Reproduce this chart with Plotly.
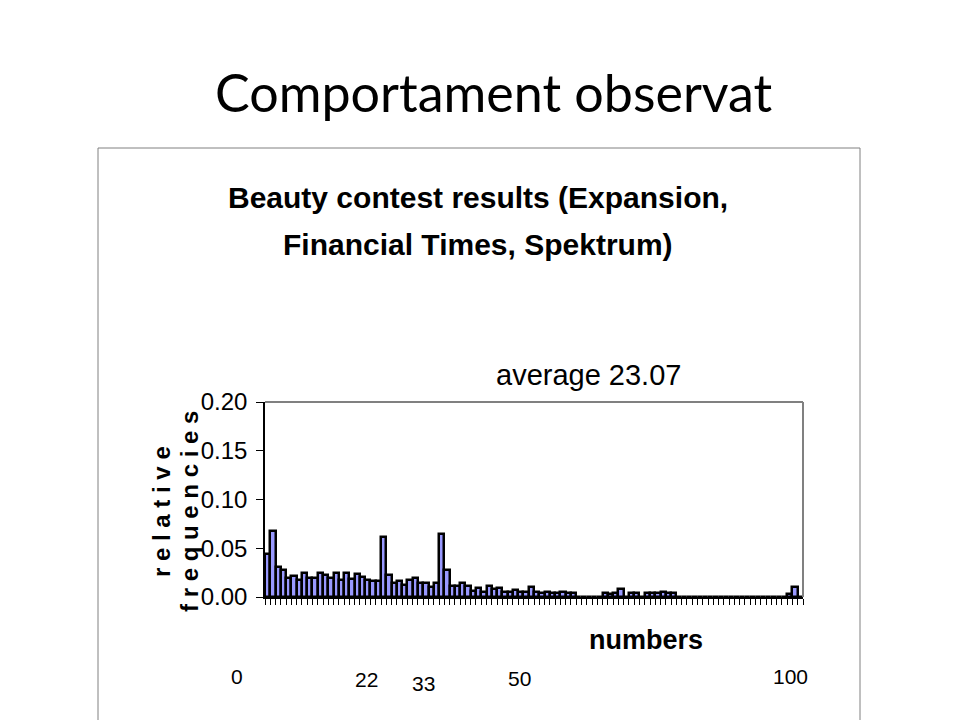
import plotly.graph_objects as go

W, H = 960, 720

# ---- data ----
numbers = list(range(0, 102))
rel_freq = [
    0.044, 0.068, 0.031, 0.028, 0.019, 0.022, 0.017, 0.025, 0.020, 0.020,  # 0-9
    0.025, 0.023, 0.020, 0.025, 0.017, 0.025, 0.018, 0.024, 0.021, 0.017,  # 10-19
    0.016, 0.016, 0.062, 0.023, 0.014, 0.016, 0.012, 0.017, 0.020, 0.014,  # 20-29
    0.014, 0.010, 0.014, 0.065, 0.028, 0.011, 0.011, 0.014, 0.011, 0.006,  # 30-39
    0.009, 0.005, 0.011, 0.008, 0.009, 0.005, 0.005, 0.007, 0.005, 0.005,  # 40-49
    0.010, 0.005, 0.004, 0.005, 0.004, 0.004, 0.005, 0.004, 0.004, 0.000,  # 50-59
    0.000, 0.000, 0.000, 0.000, 0.004, 0.003, 0.004, 0.008, 0.000, 0.004,  # 60-69
    0.004, 0.000, 0.004, 0.004, 0.004, 0.005, 0.004, 0.004, 0.000, 0.000,  # 70-79
    0.000, 0.000, 0.000, 0.000, 0.000, 0.000, 0.000, 0.000, 0.000, 0.000,  # 80-89
    0.000, 0.000, 0.000, 0.000, 0.000, 0.000, 0.000, 0.000, 0.000, 0.003,  # 90-99
    0.0105, 0.000,                                                          # 100-101
]
y_ticks = [0.00, 0.05, 0.10, 0.15, 0.20]
y_tick_labels = ["0.00", "0.05", "0.10", "0.15", "0.20"]
slide_title = "Comportament observat"
chart_title_lines = ["Beauty contest results (Expansion,", "Financial Times, Spektrum)"]
avg_label = "average 23.07"
y_title_lines = ["r e l a t i v e", "f r e q u e n c i e s"]
x_title = "numbers"
marker_labels = ["0", "22", "33", "50", "100"]


def fx(px):
    return px / W


def fy(py):
    return 1 - py / H


SANS = "Liberation Sans, Arial, sans-serif"

fig = go.Figure()
fig.add_trace(go.Bar(
    x=numbers, y=rel_freq,
    marker=dict(color="#9999FF", line=dict(color="black", width=2.5)),
    width=1.0,
))

ann = []
ann.append(dict(text=slide_title, x=fx(494), y=fy(92), xref="paper", yref="paper",
                showarrow=False, xanchor="center", yanchor="middle",
                font=dict(family="Lato, Carlito, Calibri, sans-serif", size=52, color="black")))
for line, py in zip(chart_title_lines, [197, 244]):
    ann.append(dict(text="<b>%s</b>" % line, x=fx(478), y=fy(py), xref="paper", yref="paper",
                    showarrow=False, xanchor="center", yanchor="middle",
                    font=dict(family=SANS, size=30, color="black")))
ann.append(dict(text=avg_label, x=fx(588), y=fy(375), xref="paper", yref="paper",
                showarrow=False, xanchor="center", yanchor="middle",
                font=dict(family=SANS, size=29, color="black")))
for line, px in zip(y_title_lines, [161, 189]):
    ann.append(dict(text="<b>%s</b>" % line, x=fx(px), y=fy(512), xref="paper", yref="paper",
                    showarrow=False, xanchor="center", yanchor="middle", textangle=-90,
                    font=dict(family=SANS, size=24, color="black")))
ann.append(dict(text="<b>%s</b>" % x_title, x=fx(646), y=fy(640), xref="paper", yref="paper",
                showarrow=False, xanchor="center", yanchor="middle",
                font=dict(family=SANS, size=27, color="black")))
for lab, (px, py) in zip(marker_labels, [(237, 676), (366, 679), (423, 683), (519, 678), (790, 676)]):
    ann.append(dict(text=lab, x=fx(px), y=fy(py), xref="paper", yref="paper",
                    showarrow=False, xanchor="center", yanchor="middle",
                    font=dict(family=SANS, size=21, color="black")))

shapes = [
    # slide chart frame
    dict(type="rect", xref="paper", yref="paper", x0=fx(98), x1=fx(860), y0=fy(730), y1=fy(148),
         line=dict(color="#808080", width=1)),
    # plot area top & right border
    dict(type="line", xref="x domain", yref="y domain", x0=0, x1=1, y0=1, y1=1,
         line=dict(color="#808080", width=2)),
    dict(type="line", xref="x domain", yref="y domain", x0=1, x1=1, y0=0, y1=1,
         line=dict(color="#808080", width=2)),
]

fig.update_layout(
    width=W, height=H,
    margin=dict(l=0, r=0, t=0, b=0, pad=0, autoexpand=False),
    paper_bgcolor="white", plot_bgcolor="white",
    showlegend=False, bargap=0,
    annotations=ann, shapes=shapes,
    xaxis=dict(domain=[fx(265), fx(803)], range=[-0.5, 101.5],
               showticklabels=False, ticks="outside", ticklen=6, tickwidth=1, tickcolor="black",
               tickmode="array", tickvals=[n - 0.5 for n in numbers] + [numbers[-1] + 0.5],
               showline=True, linecolor="black", linewidth=1.5,
               showgrid=False, zeroline=False, fixedrange=True),
    yaxis=dict(domain=[fy(597), fy(402)], range=[0, 0.2],
               tickmode="array", tickvals=y_ticks, ticktext=y_tick_labels,
               ticks="outside", ticklen=7, tickwidth=1, tickcolor="black",
               tickfont=dict(family=SANS, size=24, color="black"),
               ticklabelstandoff=4,
               showline=True, linecolor="black", linewidth=1.5,
               showgrid=False, zeroline=False, fixedrange=True),
)

fig.write_html("out.html", config={"displayModeBar": False},
               post_script="document.body.style.margin='0';document.body.style.overflow='hidden';")
